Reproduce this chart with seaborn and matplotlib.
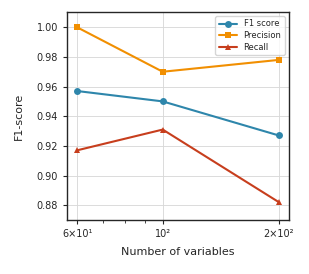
import matplotlib
matplotlib.use("Agg")
import matplotlib.pyplot as plt
import matplotlib.ticker as mticker
import seaborn as sns
import pandas as pd

n_vars = [60, 100, 200]
x_tick_labels = ["6×10¹", "10²", "2×10²"]
f1 = [0.957, 0.950, 0.927]
precision = [1.000, 0.970, 0.978]
recall = [0.917, 0.931, 0.882]

series = ["F1 score", "Precision", "Recall"]
colors = ["#2E86AB", "#F18F01", "#C73E1D"]
markers = ["o", "s", "^"]

df = pd.DataFrame({
    "n": n_vars * 3,
    "score": f1 + precision + recall,
    "metric": [s for s in series for _ in n_vars],
})

sns.set_style("ticks")
plt.rcParams["font.family"] = ["DejaVu Sans"]

fig = plt.figure(figsize=(3.09, 2.74), dpi=100)
ax = fig.add_axes([67/309, 1 - 220/274, (289-67)/309, (220-12)/274])

for s, c, m in zip(series, colors, markers):
    sub = df[df["metric"] == s]
    sns.lineplot(data=sub, x="n", y="score", ax=ax, color=c, marker=m,
                 markersize=5, markeredgewidth=0, linewidth=1.5, label=s)

ax.set_xscale("log")
ax.set_xticks(n_vars)
ax.set_xticklabels(x_tick_labels)
ax.xaxis.set_minor_formatter(mticker.NullFormatter())
ax.set_ylim(0.87, 1.0103)
ax.set_yticks([0.88, 0.90, 0.92, 0.94, 0.96, 0.98, 1.00])
ax.yaxis.set_major_formatter(mticker.FormatStrFormatter("%.2f"))
ax.grid(True, color="#d8d8d8", linewidth=0.7, alpha=0.9)
ax.set_axisbelow(True)
ax.tick_params(labelsize=7, width=0.8, length=3)
ax.tick_params(which="minor", length=2, width=0.6)
for sp in ax.spines.values():
    sp.set_linewidth(1.0)
ax.set_xlabel("Number of variables", fontsize=8, labelpad=6)
ax.set_ylabel("F1-score", fontsize=8, labelpad=9)
ax.legend(loc="upper right", fontsize=6, frameon=True, handlelength=2.2,
          borderpad=0.4, labelspacing=0.3)

fig.savefig("out.png", dpi=100)
